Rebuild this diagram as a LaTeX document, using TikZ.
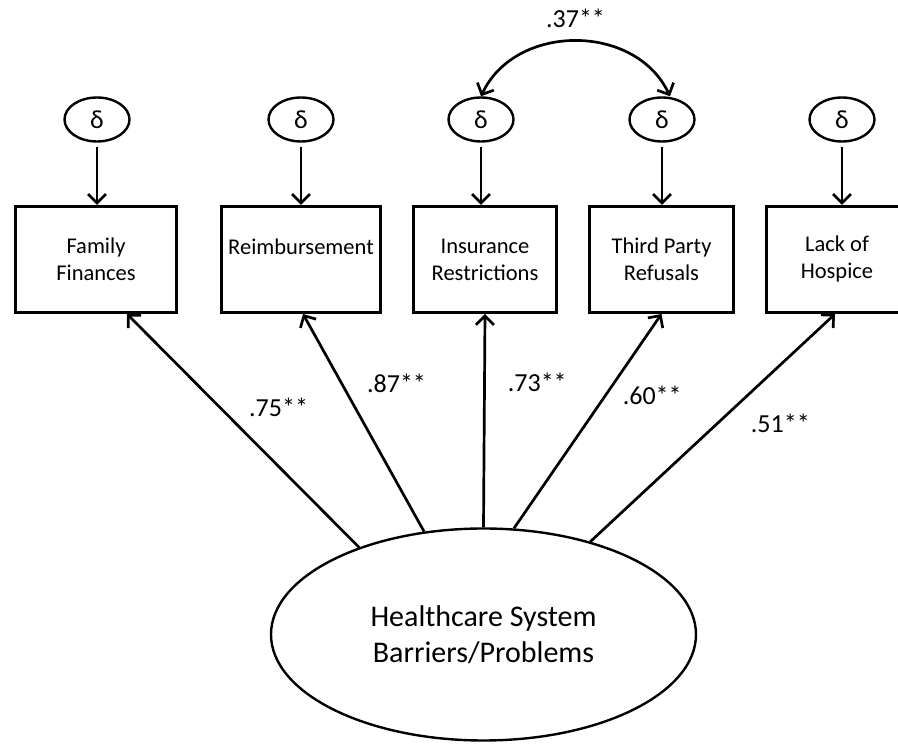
\documentclass[tikz,border=0pt]{standalone}
\usepackage{fontspec}
\setmainfont{Carlito}
\usepackage{tikz}
\usetikzlibrary{arrows.meta,positioning,shapes.geometric}
\tikzset{
  errterm/.style={ellipse,draw,line width=2.4pt,minimum width=65pt,
    minimum height=44pt,inner sep=0pt,font=\fontsize{26}{28}\selectfont},
  indicator/.style={rectangle,draw,line width=3pt,minimum height=106pt,
    align=center,inner sep=0pt,font=\fontsize{22.5}{27}\selectfont},
  latent/.style={ellipse,draw,line width=2.4pt,minimum width=425pt,
    minimum height=212pt,align=center,font=\fontsize{30}{36}\selectfont},
  arrow/.style={-{Straight Barb[length=9pt,width=18pt]},line width=2.7pt},
  biarrow/.style={{Straight Barb[length=9pt,width=18pt]}-{Straight Barb[length=9pt,width=18pt]},
    line width=2.7pt},
  coef/.style={font=\fontsize{26}{28}\selectfont,inner sep=0pt}
}

\begin{document}
\begin{tikzpicture}[x=1pt,y=1pt]
  \useasboundingbox (0,0) rectangle (898,744);
  \clip (0,0) rectangle (898,744);
  % observed indicators
  \node[indicator,minimum width=161pt] (fam) at (96,484.5) {Family\\Finances};
  \node[indicator,minimum width=159pt] (reimb) at (301,484.5) {Reimbursement\\[-2pt]\mbox{}};
  \node[indicator,minimum width=143pt] (insur) at (485,484.5) {Insurance\\Restrictions};
  \node[indicator,minimum width=144pt] (third) at (661.5,484.5) {Third Party\\Refusals};
  \node[indicator,minimum width=141pt] (hosp) at (837,484.5) {Lack of\\Hospice};
  % error terms
  \node[errterm] (dfam) at (97,624.5) {δ};
  \node[errterm] (dreimb) at (301,624.5) {δ};
  \node[errterm] (dinsur) at (481,624.5) {δ};
  \node[errterm] (dthird) at (662,624.5) {δ};
  \node[errterm] (dhosp) at (842,624.5) {δ};
  % latent factor
  \node[latent] (health) at (483.5,109.5) {Healthcare System\\Barriers/Problems};
  \draw[arrow,shorten <=4pt] (dfam) -- (dfam |- fam.north);
  \draw[arrow,shorten <=4pt] (dreimb) -- (dreimb |- reimb.north);
  \draw[arrow,shorten <=4pt] (dinsur) -- (dinsur |- insur.north);
  \draw[arrow,shorten <=4pt] (dthird) -- (dthird |- third.north);
  \draw[arrow,shorten <=4pt] (dhosp) -- (dhosp |- hosp.north);
  \draw[biarrow] (dinsur.north) to[out=65,in=115,looseness=1.1]
    node[coef,above=12pt]{.37**} ([xshift=8pt]dthird.north);
  \draw[arrow] (health.145) -- node[coef,pos=.6,right=28pt]{.75**} ([xshift=31pt]fam.south);
  \draw[arrow] (health.120) -- node[coef,pos=.68,right=24pt]{.87**} ([xshift=2pt]reimb.south);
  \draw[arrow] (health.90) -- node[coef,pos=.68,right=22pt]{.73**} (insur.south);
  \draw[arrow] (health.74) -- node[coef,pos=.62,right=16pt]{.60**} (third.south);
  \draw[arrow] (health.41) -- node[coef,pos=.52,right=32pt]{.51**} ([xshift=-2pt]hosp.south);
\end{tikzpicture}
\end{document}
